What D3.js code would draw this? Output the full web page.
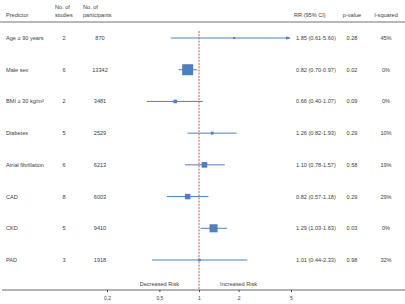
<!DOCTYPE html>
<html><head><meta charset="utf-8">
<script src="https://cdn.jsdelivr.net/npm/d3@7"></script>
<style>body{margin:0;background:#fff}text{font-family:"Liberation Sans",Arial,sans-serif}</style>
</head><body>
<svg id="c" width="405" height="304"></svg>
<script>
const predictors = ["Age \u2265 90 years","Male sex","BMI \u2265 30 kg/m\u00b2","Diabetes","Atrial fibrillation","CAD","CKD","PAD"];
const studies = [2,6,2,5,6,8,5,3];
const participants = [870,13342,3481,2529,6213,6003,9410,1918];
const rr = [1.85,0.82,0.66,1.26,1.10,0.82,1.29,1.01];
const lower = [0.61,0.70,0.40,0.82,0.78,0.57,1.03,0.44];
const upper = [5.60,0.97,1.07,1.93,1.57,1.18,1.63,2.33];
const pValues = ["0.28","0.02","0.09","0.29","0.58","0.29","0.03","0.98"];
const iSquared = ["45%","0%","0%","10%","19%","29%","0%","32%"];
const tickValues = [0.2,0.5,1,2,5];
const tickLabels = ["0,2","0,5","1","2","5"];

const svg = d3.select("#c");
const fs = 5.6, col = "#404040", blue = "#4f7fbf";
const x = d3.scaleLog().domain([0.2,5]).range([107,291]);
const y = d3.scaleLinear().domain([0,7]).range([38,260]);
const size = d3.scaleLinear().domain([0,13342]).range([1,11]);

// headers
const hdr = svg.append("g").attr("font-size",fs).attr("fill",col);
hdr.append("text").attr("x",6).attr("y",17).text("Predictor");
hdr.append("text").attr("x",55).attr("y",9).text("No. of");
hdr.append("text").attr("x",55).attr("y",17).text("studies");
hdr.append("text").attr("x",83).attr("y",9).text("No. of");
hdr.append("text").attr("x",83).attr("y",17).text("participants");
hdr.append("text").attr("x",294).attr("y",17).text("RR (95% CI)");
hdr.append("text").attr("x",352).attr("y",17).attr("text-anchor","middle").text("p-value");
hdr.append("text").attr("x",386).attr("y",17).attr("text-anchor","middle").text("I-squared");
svg.append("line").attr("x1",0).attr("x2",405).attr("y1",22).attr("y2",22).attr("stroke","#a0a0a0").attr("stroke-width",1.6);

// reference line
svg.append("line").attr("x1",x(1)).attr("x2",x(1)).attr("y1",31).attr("y2",290)
  .attr("stroke","#d04040").attr("stroke-width",0.9).attr("stroke-dasharray","2,1.2");

const defs = svg.append("defs");
defs.append("marker").attr("id","arr").attr("viewBox","0 0 10 10").attr("refX",9).attr("refY",5)
  .attr("markerWidth",5).attr("markerHeight",5).attr("orient","auto")
  .append("path").attr("d","M0,1 L10,5 L0,9 Z").attr("fill",blue);

const rows = svg.append("g").selectAll("g").data(predictors).join("g")
  .attr("transform",(d,i)=>`translate(0,${y(i)})`);
rows.append("text").attr("x",6).attr("y",2).attr("font-size",fs).attr("fill",col).text(d=>d);
rows.append("text").attr("x",64).attr("y",2).attr("text-anchor","middle").attr("font-size",fs).attr("fill",col).text((d,i)=>studies[i]);
rows.append("text").attr("x",100).attr("y",2).attr("text-anchor","middle").attr("font-size",fs).attr("fill",col).text((d,i)=>participants[i]);
rows.append("text").attr("x",296).attr("y",2).attr("font-size",fs).attr("fill",col)
  .text((d,i)=>`${rr[i].toFixed(2)} (${lower[i].toFixed(2)}-${upper[i].toFixed(2)})`);
rows.append("text").attr("x",352).attr("y",2).attr("text-anchor","middle").attr("font-size",fs).attr("fill",col).text((d,i)=>pValues[i]);
rows.append("text").attr("x",386).attr("y",2).attr("text-anchor","middle").attr("font-size",fs).attr("fill",col).text((d,i)=>iSquared[i]);

rows.append("line").attr("x1",(d,i)=>x(Math.max(lower[i],0.2)))
  .attr("x2",(d,i)=>upper[i]>5? x(5)-1 : x(upper[i]))
  .attr("y1",0).attr("y2",0).attr("stroke",blue).attr("stroke-width",1)
  .attr("marker-end",(d,i)=>upper[i]>5?"url(#arr)":null);
rows.append("rect")
  .attr("x",(d,i)=>x(rr[i])-Math.max(size(participants[i]),2)/2)
  .attr("y",(d,i)=>-Math.max(size(participants[i]),2)/2)
  .attr("width",(d,i)=>Math.max(size(participants[i]),2))
  .attr("height",(d,i)=>Math.max(size(participants[i]),2))
  .attr("fill",blue);

// axis
const ax = svg.append("g").attr("transform","translate(0,290)");
ax.append("line").attr("x1",2).attr("x2",405).attr("stroke","#404040").attr("stroke-width",0.8);
const axis = d3.axisBottom(x).tickValues(tickValues).tickSize(2).tickFormat((d,i)=>tickLabels[i]);
const ag = ax.append("g").call(axis);
ag.select(".domain").remove();
ag.selectAll("line").attr("stroke","#404040");
ag.selectAll("text").attr("font-size",fs-0.6).attr("fill",col).attr("font-family","Liberation Sans, Arial, sans-serif").attr("dy","0.9em");

svg.append("text").attr("x",x(0.5)).attr("y",286).attr("text-anchor","middle").attr("font-size",fs).attr("fill",col).text("Decreased Risk");
svg.append("text").attr("x",x(2)).attr("y",286).attr("text-anchor","middle").attr("font-size",fs).attr("fill",col).text("Increased Risk");
</script>
</body></html>
